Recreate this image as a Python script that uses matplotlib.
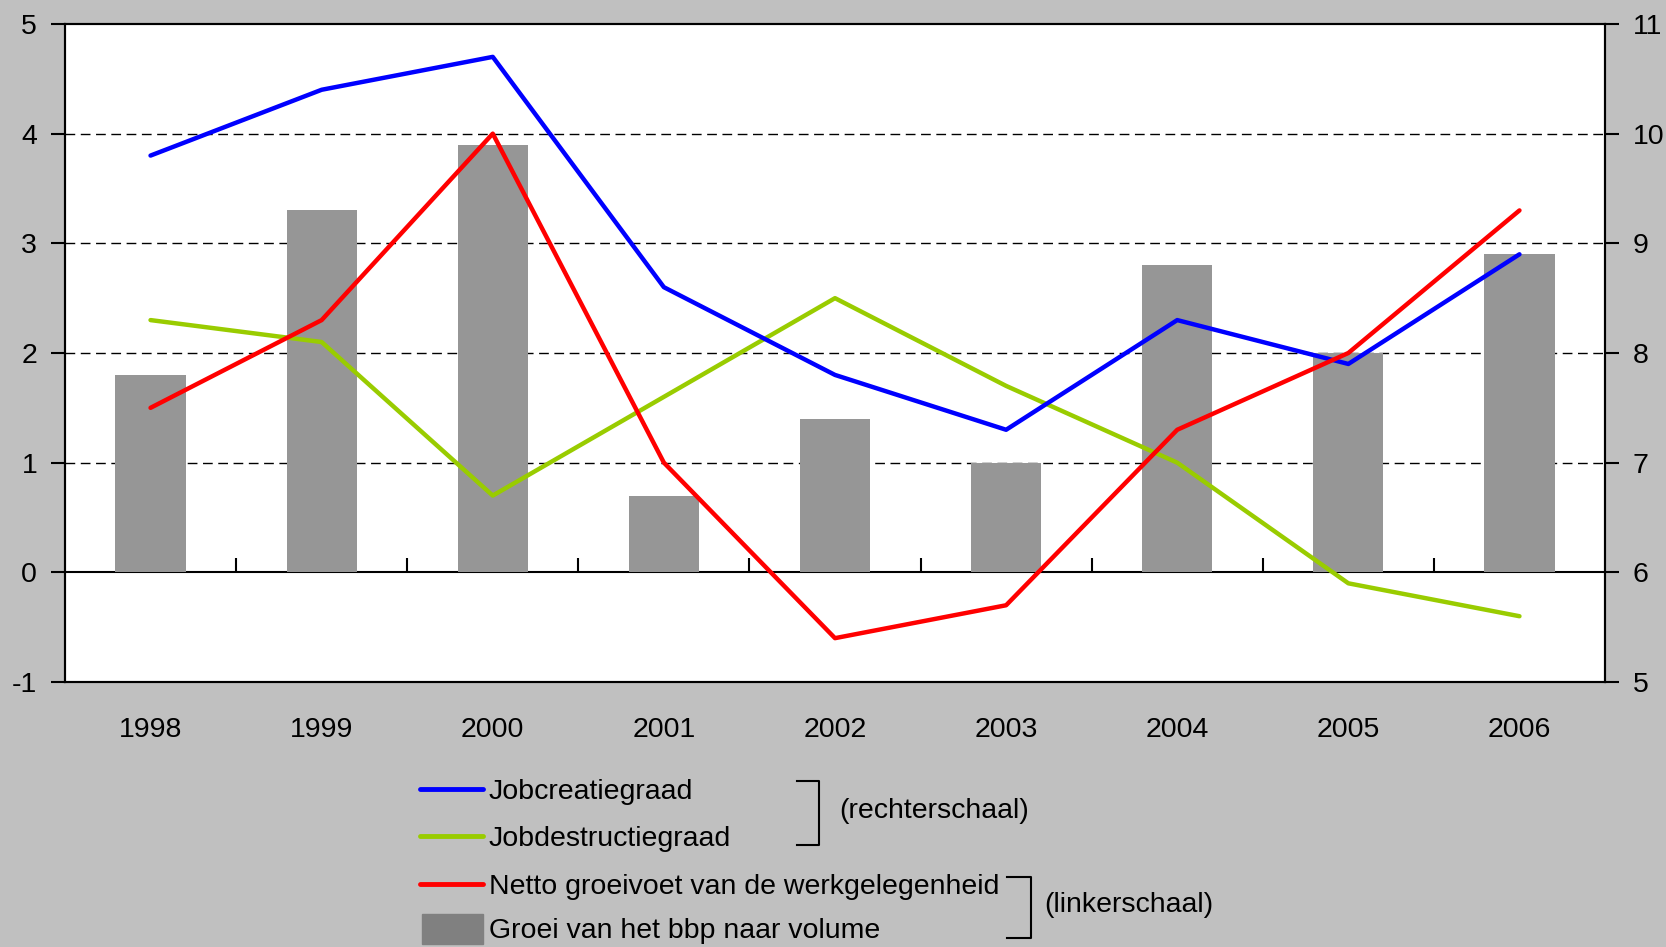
import matplotlib
matplotlib.use("Agg")
import matplotlib.pyplot as plt
from matplotlib.lines import Line2D
from matplotlib.patches import Rectangle
import numpy as np

plt.rcParams['font.family'] = ['Liberation Sans', 'DejaVu Sans']

years = ['1998', '1999', '2000', '2001', '2002', '2003', '2004', '2005', '2006']
bbp_growth = [1.8, 3.3, 3.9, 0.7, 1.4, 1.0, 2.8, 2.0, 2.9]          # left scale
netto_groei = [1.5, 2.3, 4.0, 1.0, -0.6, -0.3, 1.3, 2.0, 3.3]      # left scale
jobcreatie = [9.8, 10.4, 10.7, 8.6, 7.8, 7.3, 8.3, 7.9, 8.9]       # right scale
jobdestructie = [8.3, 8.1, 6.7, 7.6, 8.5, 7.7, 7.0, 5.9, 5.6]      # right scale

left_ticks = [-1, 0, 1, 2, 3, 4, 5]
right_ticks = [5, 6, 7, 8, 9, 10, 11]

BG = '#c0c0c0'
BAR = '#969696'
BLUE = '#0000ff'
GREEN = '#99cc00'
RED = '#ff0000'
FS = 20.5
LFS = 20.5

fig = plt.figure(figsize=(16.66, 9.47), dpi=100, facecolor=BG)
ax = fig.add_axes([0.039, 0.2798, 0.9244, 0.6949])
ax.set_facecolor('white')
x = np.arange(len(years))

ax.bar(x, bbp_growth, width=0.41, color=BAR, zorder=2)
ax.set_xlim(-0.5, len(years) - 0.5)
ax.set_ylim(left_ticks[0], left_ticks[-1])
ax.set_yticks(left_ticks)
ax.set_yticklabels([str(t) for t in left_ticks])
for t in left_ticks[2:-1]:
    ax.axhline(t, color='black', lw=1, ls=(0, (7, 4)), zorder=1)

ax.set_xticks(x)
ax.set_xticklabels(years)
ax.tick_params(axis='x', length=0, pad=25, labelsize=FS)
ax.tick_params(axis='y', direction='out', length=10, width=1.5, pad=10, labelsize=FS)
for s in ax.spines.values():
    s.set_linewidth(1.5)

# zero line with category-boundary ticks
sec = ax.secondary_xaxis(1/6)
sec.xaxis.set_ticks_position('bottom')
sec.set_xticks(x[:-1] + 0.5)
sec.set_xticklabels([''] * (len(years) - 1))
sec.tick_params(axis='x', direction='in', length=10, width=1.5)
sec.spines['bottom'].set_linewidth(1.5)
sec.spines['top'].set_visible(False)

ax2 = ax.twinx()
ax2.set_ylim(right_ticks[0], right_ticks[-1])
ax2.set_yticks(right_ticks)
ax2.tick_params(axis='y', direction='out', length=10, width=1.5, pad=10, labelsize=FS)
for s in ax2.spines.values():
    s.set_linewidth(1.5)

ax2.plot(x, jobdestructie, color=GREEN, lw=3.2, solid_capstyle='round', solid_joinstyle='round')
ax2.plot(x, jobcreatie, color=BLUE, lw=3.2, solid_capstyle='round', solid_joinstyle='round')
ax2.plot(x, netto_groei, color=RED, lw=3.2, solid_capstyle='round', solid_joinstyle='round',
         transform=ax.transData)

# custom legend
def fx(px):
    return px / 1666.0

def fy(py):
    return 1 - py / 947.0

legend_items = [
    ('line', BLUE, 'Jobcreatiegraad', 792),
    ('line', GREEN, 'Jobdestructiegraad', 839),
    ('line', RED, 'Netto groeivoet van de werkgelegenheid', 887),
    ('patch', '#808080', 'Groei van het bbp naar volume', 931),
]
for kind, col, label, py in legend_items:
    if kind == 'line':
        fig.add_artist(Line2D([fx(420), fx(483)], [fy(py - 3), fy(py - 3)], color=col, lw=3.5,
                              solid_capstyle='round', transform=fig.transFigure))
    else:
        fig.add_artist(Rectangle((fx(422), fy(944)), fx(483) - fx(422), fy(914) - fy(944),
                                 color=col, transform=fig.transFigure))
    fig.text(fx(489), fy(py), label, fontsize=LFS, va='center', ha='left')

def bracket(xv, xa, y0, y1):
    fig.add_artist(Line2D([fx(xa), fx(xv), fx(xv), fx(xa)], [fy(y0), fy(y0), fy(y1), fy(y1)],
                          color='black', lw=1.5, transform=fig.transFigure))

bracket(819, 797, 781, 845)
fig.text(fx(839), fy(811), '(rechterschaal)', fontsize=LFS, va='center', ha='left')
bracket(1031, 1007, 877, 938)
fig.text(fx(1044), fy(905), '(linkerschaal)', fontsize=LFS, va='center', ha='left')

fig.savefig('out.png', dpi=100, facecolor=BG)
